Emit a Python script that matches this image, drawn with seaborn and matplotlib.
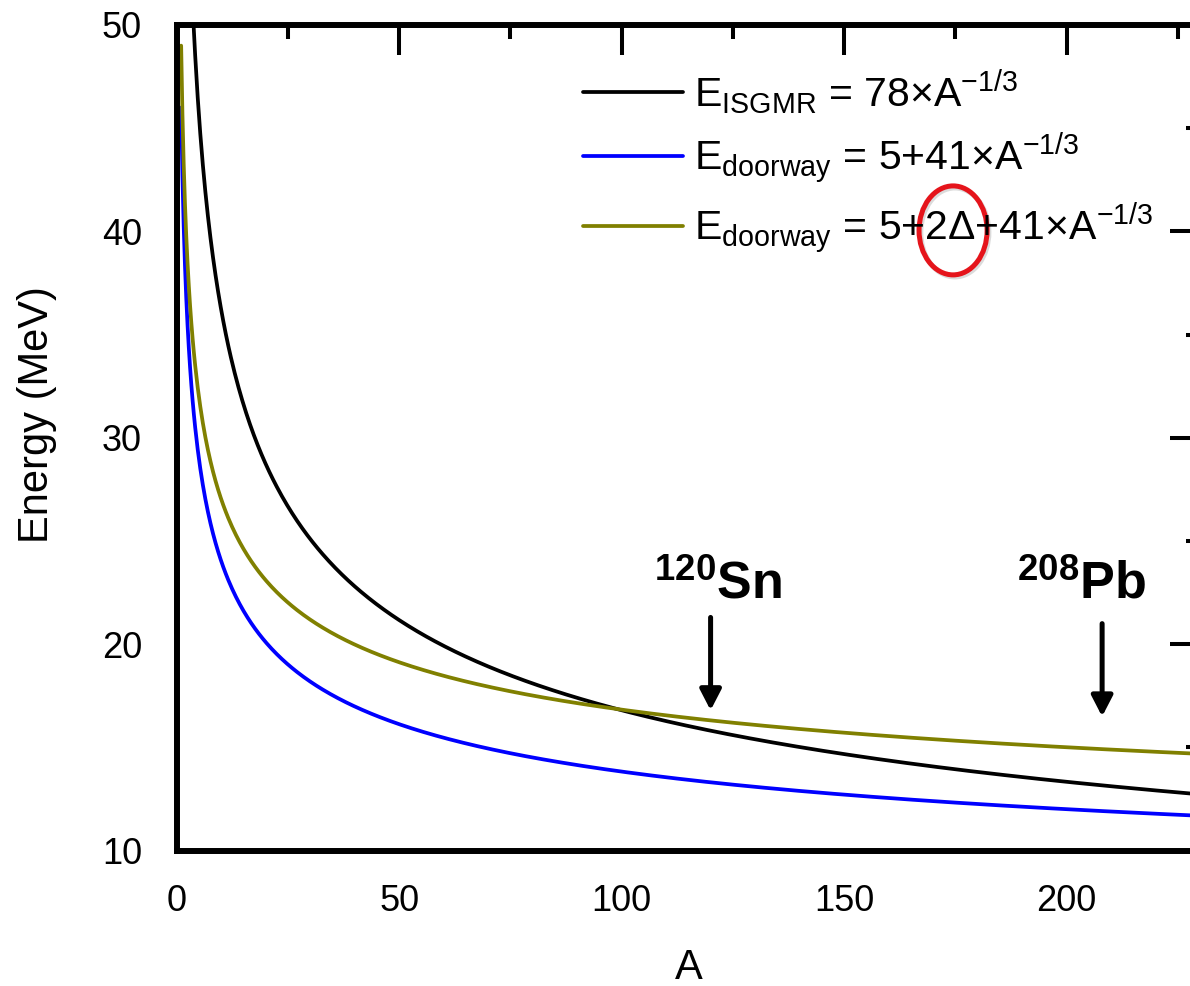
import numpy as np
import pandas as pd
import matplotlib
matplotlib.use("Agg")
import matplotlib.pyplot as plt
import seaborn as sns
from matplotlib.patches import Ellipse
from matplotlib.ticker import MultipleLocator
from matplotlib.lines import Line2D

# Mass number grid and the parameters of the three systematics E = offset + coef * A^(-1/3)
mass_number = np.linspace(1, 230, 800)
series_keys = ["isgmr", "doorway", "doorway_pair"]
pair_gap = 1.5  # Delta (MeV)
offsets = [0.0, 5.0, 5.0 + 2 * pair_gap]
coefficients = [78.0, 41.0, 41.0]
line_colors = ["#000000", "#0000ff", "#808000"]
legend_labels = [
    r"E$_{\mathrm{ISGMR}}$ = 78×A$^{\mathrm{-1/3}}$",
    r"E$_{\mathrm{doorway}}$ = 5+41×A$^{\mathrm{-1/3}}$",
    r"E$_{\mathrm{doorway}}$ = 5+2Δ+41×A$^{\mathrm{-1/3}}$",
]

# Reference nuclei marked with arrows
nuclei_labels = [r"$\mathbf{{}^{120}Sn}$", r"$\mathbf{{}^{208}Pb}$"]
nuclei_mass = [120, 208]
arrow_top = [21.3, 21.0]
arrow_tip = [16.8, 16.5]
label_x = [121.7, 203.4]
label_y = 22.2

x_ticks = [0, 50, 100, 150, 200]
y_ticks = [10, 20, 30, 40, 50]

frames = []
for key, off, coef in zip(series_keys, offsets, coefficients):
    frames.append(pd.DataFrame({"A": mass_number,
                                "E": off + coef * mass_number ** (-1.0 / 3.0),
                                "series": key}))
data = pd.concat(frames, ignore_index=True)

sns.set_theme(style="white")
plt.rcParams["font.family"] = ["Liberation Sans", "DejaVu Sans"]
plt.rcParams["mathtext.fontset"] = "custom"
plt.rcParams["mathtext.rm"] = "Liberation Sans"
plt.rcParams["mathtext.it"] = "Liberation Sans:italic"
plt.rcParams["mathtext.bf"] = "Liberation Sans:bold"
plt.rcParams["text.color"] = "black"
plt.rcParams["axes.labelcolor"] = "black"
plt.rcParams["xtick.labelcolor"] = "black"
plt.rcParams["ytick.labelcolor"] = "black"

fig = plt.figure(figsize=(11.9, 9.86), dpi=100)
ax = fig.add_axes([176.7 / 1190, 1 - 850.7 / 986, (1200 - 176.7) / 1190, (850.7 - 25) / 986])

sns.lineplot(data=data, x="A", y="E", hue="series", hue_order=series_keys,
             palette=dict(zip(series_keys, line_colors)), linewidth=2.7,
             legend=False, ax=ax, sort=False)

ax.set_xlim(0, 230)
ax.set_ylim(10, 50)
ax.set_xticks(x_ticks)
ax.set_yticks(y_ticks)
ax.xaxis.set_minor_locator(MultipleLocator(25))
ax.yaxis.set_minor_locator(MultipleLocator(5))

for side in ["left", "right", "top", "bottom"]:
    ax.spines[side].set_visible(True)
    ax.spines[side].set_linewidth(4.3)
    ax.spines[side].set_color("black")

ax.tick_params(which="both", direction="in", top=True, right=True,
               color="black", width=2.9)
ax.tick_params(which="major", length=21.6, labelsize=26)
ax.tick_params(which="minor", length=10)
ax.tick_params(axis="y", which="major", pad=25)
ax.tick_params(axis="x", which="major", pad=24)

ax.set_xlabel("A", fontsize=30)
ax.set_ylabel("Energy (MeV)", fontsize=30)
ax.xaxis.set_label_coords(0.5, -0.118)
ax.yaxis.set_label_coords(-0.117, 0.528)

handles = [Line2D([0], [0], color=c, lw=2.7) for c in line_colors]
ax.legend(handles, legend_labels, loc="upper left",
          bbox_to_anchor=(583 / 1190, 1 - 67 / 986), bbox_transform=fig.transFigure,
          frameon=False, fontsize=29.5, handlelength=2.43, handletextpad=0.27,
          labelspacing=0.36, borderpad=0, borderaxespad=0)

# Highlight around the pairing term
ax.add_patch(Ellipse((174.9, 39.95), 15.3, 4.31, fill=False, edgecolor="#9a9a9a",
                     lw=3.6, alpha=0.35, clip_on=False))
ax.add_patch(Ellipse((174.5, 40.05), 15.3, 4.31, fill=False, edgecolor="#e5141b",
                     lw=3.6, clip_on=False))

for name, a, top, tip, lx in zip(nuclei_labels, nuclei_mass, arrow_top, arrow_tip, label_x):
    ax.annotate("", xy=(a, tip), xytext=(a, top),
                arrowprops=dict(arrowstyle="-|>,head_length=0.62,head_width=0.32",
                                mutation_scale=20, lw=3.6, color="black",
                                shrinkA=0, shrinkB=0))
    ax.text(lx, label_y, name, fontsize=37.5, ha="center", va="baseline", color="black")

fig.savefig("out.png", dpi=100)
